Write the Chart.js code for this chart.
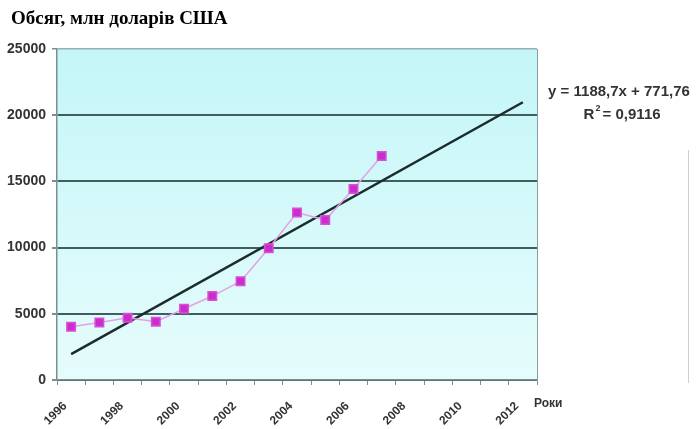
<!DOCTYPE html>
<html>
<head>
<meta charset="utf-8">
<script src="https://cdn.jsdelivr.net/npm/chart.js@4"></script>
<style>
  html, body { margin: 0; padding: 0; background: #fff; }
  #wrap { width: 698px; height: 429px; position: relative; }
</style>
</head>
<body>
<div id="wrap"><canvas id="salesChart"></canvas></div>
<script>
const years = ['1996', '1997', '1998', '1999', '2000', '2001', '2002', '2003', '2004',
   '2005', '2006', '2007', '2008', '2009', '2010', '2011', '2012'];
const volume = [4030, 4350, 4700, 4400, 5380, 6340, 7450, 9950, 12650, 12080, 14420, 16920];
// trend line ends (1996 and 2012)
const trendStart = 1960;
const trendEnd = 20980;
const yTicks = [0, 5000, 10000, 15000, 20000, 25000];

const trend = years.map((y, i) => i === 0 ? trendStart : (i === years.length - 1 ? trendEnd : null));

const decor = {
   id: 'decor',
   beforeDraw(chart) {
      const { ctx, chartArea: a } = chart;
      const g = ctx.createLinearGradient(0, a.top, 0, a.bottom);
      g.addColorStop(0, '#c4f6f8');
      g.addColorStop(1, '#e6fcfc');
      ctx.save();
      ctx.fillStyle = g;
      ctx.fillRect(a.left, a.top, a.right - a.left, a.bottom - a.top);
      ctx.restore();
   },
   afterDraw(chart) {
      const { ctx, chartArea: a } = chart;
      ctx.save();
      // right border of plot area
      ctx.strokeStyle = '#8aa0a0';
      ctx.lineWidth = 1;
      ctx.beginPath();
      ctx.moveTo(a.right + 0.5, a.top);
      ctx.lineTo(a.right + 0.5, a.bottom);
      ctx.stroke();
      // leftover frame line on the right
      ctx.strokeStyle = '#cfcfcf';
      ctx.beginPath();
      ctx.moveTo(688.5, 150);
      ctx.lineTo(688.5, 383);
      ctx.stroke();

      ctx.fillStyle = '#000';
      ctx.font = 'bold 19px "Liberation Serif", "Times New Roman", serif';
      ctx.textAlign = 'left';
      ctx.textBaseline = 'middle';
      ctx.fillText('Обсяг, млн доларів США', 11, 19);

      ctx.fillStyle = '#333';
      ctx.font = 'bold 15px "Liberation Sans", Arial, sans-serif';
      ctx.textAlign = 'center';
      ctx.fillText('y = 1188,7x + 771,76', 619, 92);
      ctx.fillText('R  = 0,9116', 622, 115);
      ctx.font = 'bold 9px "Liberation Sans", Arial, sans-serif';
      ctx.fillText('2', 598, 109);

      ctx.font = 'bold 12px "Liberation Sans", Arial, sans-serif';
      ctx.textAlign = 'left';
      ctx.fillText('Роки', 534, 404);
      ctx.restore();
   }
};

new Chart(document.getElementById('salesChart'), {
   type: 'line',
   data: {
      labels: years,
      datasets: [{
         label: 'Обсяг',
         data: volume,
         borderColor: '#e4a0e4',
         borderWidth: 1.5,
         backgroundColor: '#cc2ccc',
         pointBackgroundColor: '#cc2ccc',
         pointBorderColor: '#d850d8',
         pointStyle: 'rect',
         pointRadius: 6,
         tension: 0
      }, {
         label: 'Тренд',
         data: trend,
         spanGaps: true,
         borderColor: '#1c2b2b',
         borderWidth: 2.5,
         pointRadius: 0,
         tension: 0
      }]
   },
   options: {
      responsive: true,
      maintainAspectRatio: false,
      animation: false,
      layout: { padding: { top: 49, right: 161, left: 0, bottom: 0 } },
      plugins: {
         legend: { display: false },
         tooltip: { enabled: false }
      },
      scales: {
         x: {
            offset: true,
            grid: {
               offset: true,
               drawOnChartArea: false,
               drawTicks: true,
               tickLength: 5,
               color: '#7a9090'
            },
            border: { color: '#7a9090', width: 1.5 },
            ticks: {
               autoSkip: false,
               maxRotation: 45,
               minRotation: 45,
               padding: 14,
               labelOffset: -6,
               color: '#333',
               font: { family: '"Liberation Sans", Arial, sans-serif', size: 12, weight: 'bold' },
               callback: function (v, i) { return i % 2 === 0 ? years[i] : ''; }
            },
            afterFit(scale) { scale.height = 49; }
         },
         y: {
            min: 0,
            max: 25000,
            afterBuildTicks(scale) { scale.ticks = yTicks.map(v => ({ value: v })); },
            grid: {
               color: ctx => ctx.tick && ctx.tick.value === 25000 ? '#9ab0b0' : '#3f5e5e',
               lineWidth: ctx => ctx.tick && ctx.tick.value === 25000 ? 1.5 : 2,
               tickLength: 5,
               tickColor: '#7a9090'
            },
            border: { color: '#7a9090', width: 1.5 },
            ticks: {
               padding: 6,
               color: '#333',
               font: { family: '"Liberation Sans", Arial, sans-serif', size: 14, weight: 'bold' },
               callback: v => String(v)
            },
            afterFit(scale) { scale.width = 57; }
         }
      }
   },
   plugins: [decor]
});
</script>
</body>
</html>
